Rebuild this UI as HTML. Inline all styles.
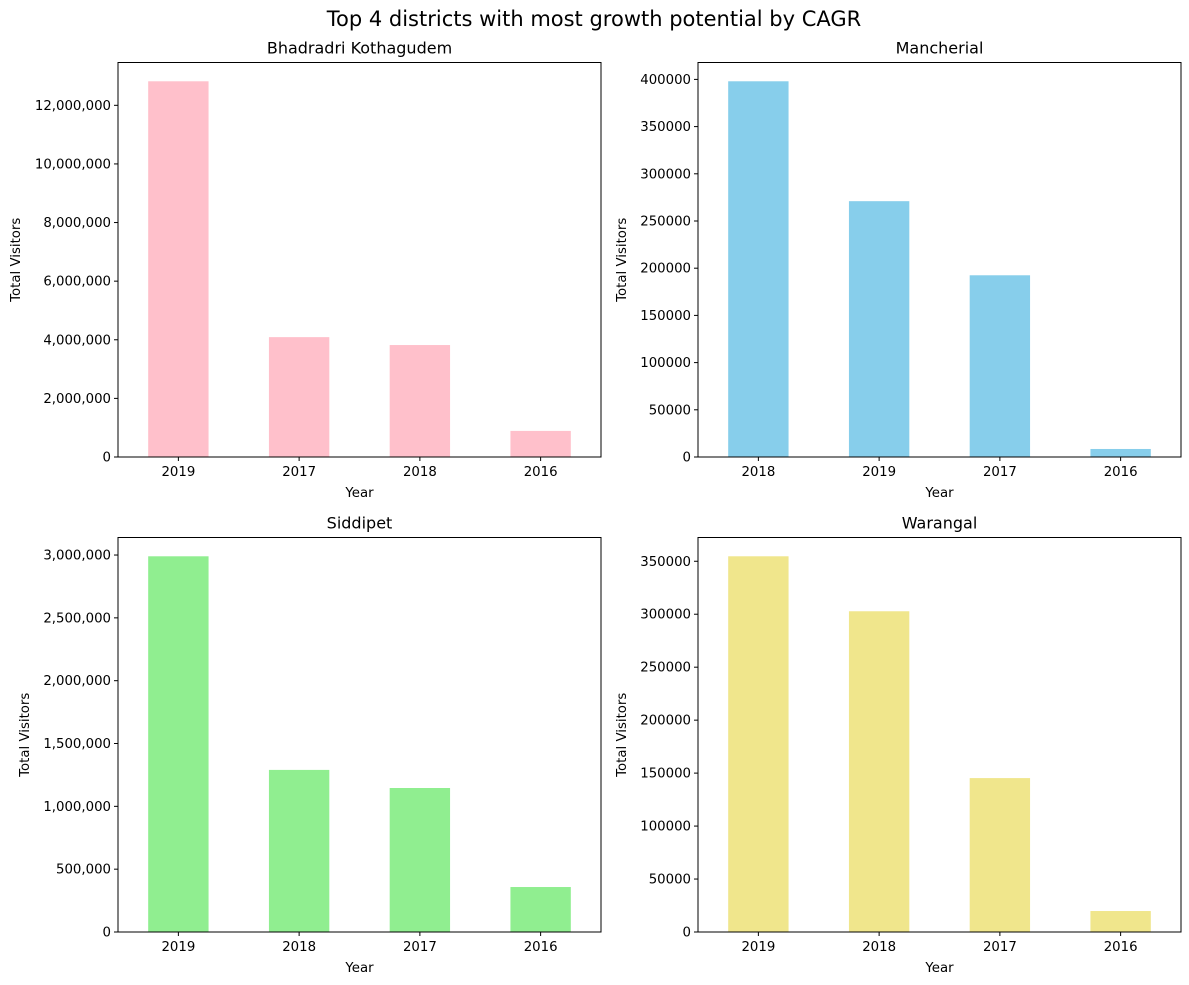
<!DOCTYPE html>
<html><head><meta charset="utf-8"><style>
html,body{margin:0;padding:0;background:#fff;}
svg{display:block;font-family:"DejaVu Sans","Liberation Sans",sans-serif;}
</style></head><body>
<svg id="chart" width="1189" height="985">
<text x="594" y="26" text-anchor="middle" font-size="21">Top 4 districts with most growth potential by CAGR</text>
</svg>
<script>
const titles = ["Bhadradri Kothagudem","Mancherial","Siddipet","Warangal"];
const cats1 = ["2019","2017","2018","2016"];
const vals1 = [12820000,4090000,3820000,890000];
const cats2 = ["2018","2019","2017","2016"];
const vals2 = [398000,271000,192500,8500];
const cats3 = ["2019","2018","2017","2016"];
const vals3 = [2990000,1290000,1146000,358000];
const cats4 = ["2019","2018","2017","2016"];
const vals4 = [354700,302800,145300,19800];
const ticks1 = [0,2000000,4000000,6000000,8000000,10000000,12000000];
const ticks2 = [0,50000,100000,150000,200000,250000,300000,350000,400000];
const ticks3 = [0,500000,1000000,1500000,2000000,2500000,3000000];
const ticks4 = [0,50000,100000,150000,200000,250000,300000,350000];
const colors = ["#ffc0cb","#87ceeb","#90ee90","#f0e68c"];
const comma = [true,false,true,false];

const NS="http://www.w3.org/2000/svg";
const svg=document.getElementById('chart');
function mk(tag,attrs,parent){const e=document.createElementNS(NS,tag);for(const k in attrs)e.setAttribute(k,attrs[k]);(parent||svg).appendChild(e);return e;}
const panels=[
 {x0:118,x1:601,y0:62.5,y1:457,cats:cats1,vals:vals1,ticks:ticks1,ylx:20},
 {x0:698,x1:1181,y0:62.5,y1:457,cats:cats2,vals:vals2,ticks:ticks2,ylx:626},
 {x0:118,x1:601,y0:537.5,y1:932,cats:cats3,vals:vals3,ticks:ticks3,ylx:29},
 {x0:698,x1:1181,y0:537.5,y1:932,cats:cats4,vals:vals4,ticks:ticks4,ylx:626}
];
panels.forEach((p,i)=>{
 const g=mk('g',{});
 
 
 const vmax=Math.max(...p.vals)*1.05;
 const ys=v=>p.y1-(v/vmax)*(p.y1-p.y0);
 const step=(p.x1-p.x0)/p.cats.length;
 const xs=k=>p.x0+step*(k+0.5);
 p.vals.forEach((v,k)=>{
  const r=mk('rect',{x:xs(k)-step/4,y:ys(v),width:step/2,height:p.y1-ys(v),fill:colors[i]},g);
  
  
 });
 const f=mk('rect',{x:p.x0,y:p.y0,width:p.x1-p.x0,height:p.y1-p.y0,fill:'none',stroke:'#000','stroke-width':1},g);
 
 
 p.ticks.forEach(t=>{
  const y=ys(t);
  mk('line',{x1:p.x0-4,x2:p.x0,y1:y,y2:y,stroke:'#000'},g);
  const tx=mk('text',{x:p.x0-7,y:y+4.5,'text-anchor':'end','font-size':13.3},g);
  tx.textContent=comma[i]?t.toLocaleString('en-US'):String(t);
  
  
 });
 p.cats.forEach((c,k)=>{
  mk('line',{x1:xs(k),x2:xs(k),y1:p.y1,y2:p.y1+4,stroke:'#000'},g);
  const tx=mk('text',{x:xs(k),y:p.y1+19,'text-anchor':'middle','font-size':13.3},g);
  tx.textContent=c;
  
  
 });
 const t=mk('text',{x:(p.x0+p.x1)/2,y:p.y0-9,'text-anchor':'middle','font-size':16},g);
 t.textContent=titles[i];
 
 
 const xl=mk('text',{x:(p.x0+p.x1)/2,y:p.y1+40,'text-anchor':'middle','font-size':13.3},g);
 xl.textContent='Year';
 
 
 const cy=(p.y0+p.y1)/2;
 const yl=mk('text',{x:p.ylx,y:cy,'text-anchor':'middle','font-size':13.3,transform:'rotate(-90 '+p.ylx+' '+cy+')'},g);
 yl.textContent='Total Visitors';
 
 
});
</script>
</body></html>
